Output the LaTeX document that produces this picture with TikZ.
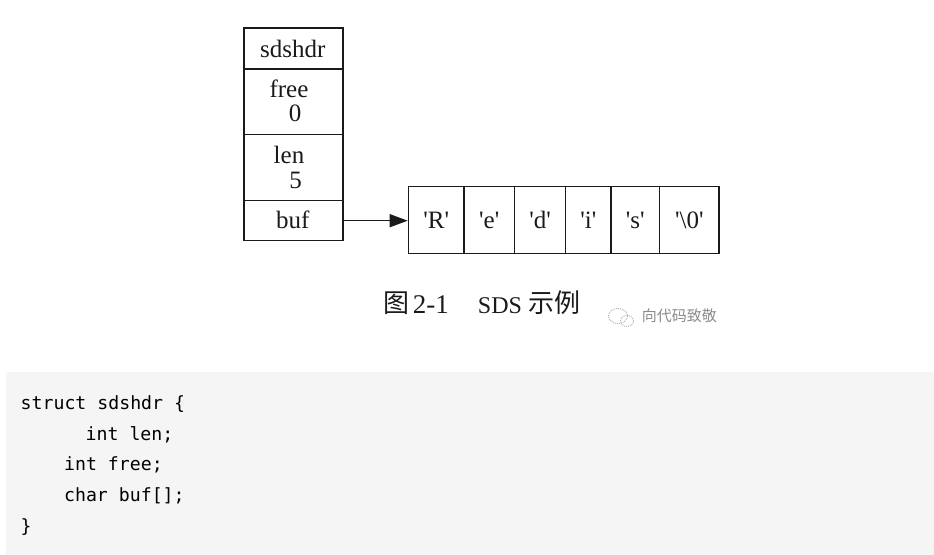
\documentclass[tikz,border=0pt]{standalone}
\usepackage{fontspec}
\setmainfont{Liberation Serif}
\newfontfamily\cjk{Noto Sans CJK SC}
\newfontfamily\codefont{DejaVu Sans Mono}
\usetikzlibrary{arrows.meta}
\definecolor{ink}{HTML}{1A1A1A}
\definecolor{codebg}{HTML}{F5F5F5}
\definecolor{wmgray}{HTML}{8A8A8A}
\newcommand{\qs}{\textquotesingle}
\begin{document}
\begin{tikzpicture}[x=1pt,y=-1pt,
  box/.style={draw=ink, line width=1.4pt, inner sep=0pt, anchor=north west},
  lbl/.style={inner sep=0pt, anchor=base, font=\fontsize{25}{25}\selectfont, text=ink},
  captxt/.style={inner sep=0pt, anchor=base, text=ink},
  code/.style={inner sep=0pt, anchor=base west, font=\codefont\fontsize{18.2}{18.2}\selectfont, text=black},
]
\useasboundingbox (0,0) rectangle (934,554);

% header struct boxes
\node[box, minimum width=99pt, minimum height=41pt]   (hdr)  at (243.3,27.3) {};
\node[box, minimum width=99pt, minimum height=65.7pt] (free) at (243.3,68.3) {};
\node[box, minimum width=99pt, minimum height=66pt]   (len)  at (243.3,134) {};
\node[box, minimum width=99pt, minimum height=40pt]   (buf)  at (243.3,200) {};

\node[lbl] (thdr)  at (292.8,57.3)  {sdshdr};
\node[lbl] (tfree) at (289,97.3)    {free};
\node[lbl] (tfv)   at (295,121.7)   {0};
\node[lbl] (tlen)  at (289,163.3)   {len};
\node[lbl] (tlv)   at (295.7,188.3) {5};
\node[lbl] (tbuf)  at (292.7,228.3) {buf};

% character array
\node[box, minimum width=55.6pt, minimum height=66.7pt] (c1) at (407.7,186) {};
\node[box, minimum width=50.4pt, minimum height=66.7pt] (c2) at (463.3,186) {};
\node[box, minimum width=51.3pt, minimum height=66.7pt] (c3) at (513.7,186) {};
\node[box, minimum width=45.3pt, minimum height=66.7pt] (c4) at (565,186) {};
\node[box, minimum width=48.7pt, minimum height=66.7pt] (c5) at (610.3,186) {};
\node[box, minimum width=59.3pt, minimum height=66.7pt] (c6) at (659,186) {};

\node[lbl] (t1) at (c1.center |- 0,228.3) {\qs R\qs};
\node[lbl] (t2) at (c2.center |- 0,228.3) {\qs e\qs};
\node[lbl] (t3) at (c3.center |- 0,228.3) {\qs d\qs};
\node[lbl] (t4) at (c4.center |- 0,228.3) {\qs i\qs};
\node[lbl] (t5) at (c5.center |- 0,228.3) {\qs s\qs};
\node[lbl] (t6) at (c6.center |- 0,228.3) {\qs\textbackslash 0\qs};

\draw[draw=ink, line width=1.4pt, -{Triangle[length=18pt,width=13pt]}]
  (buf.east) -- (buf.east -| c1.west);

% caption
\node[captxt, font=\cjk\fontsize{26}{26}\selectfont] (cfig) at (396.7,312) {图};
\node[captxt, font=\fontsize{27}{27}\selectfont]     (cnum) at (430.8,313) {2-1};
\node[captxt, font=\fontsize{24}{24}\selectfont]     (csds) at (500,313)   {SDS};
\node[captxt, font=\cjk\fontsize{26}{26}\selectfont] (cex)  at (554.2,312) {示例};

% watermark
\draw[wmgray!70, line width=0.9pt, densely dotted] (618,316) ellipse [x radius=9.5, y radius=7.5];
\draw[wmgray!70, line width=0.9pt, densely dotted] (627,321) ellipse [x radius=6.5, y radius=5.5];
\node[inner sep=0pt, anchor=west, font=\cjk\fontsize{15}{15}\selectfont, text=wmgray] (wm) at (641.7,316) {向代码致敬};

% code block
\fill[codebg, rounded corners=3pt] (6,372) rectangle (934,560);
\node[code] (l1) at (20.5,409.3)  {struct sdshdr \{};
\node[code] (l2) at (85.5,440)    {int len;};
\node[code] (l3) at (63.9,470.7)  {int free;};
\node[code] (l4) at (63.9,501.7)  {char buf[];};
\node[code] (l5) at (20.5,532.5)  {\}};
\end{tikzpicture}
\end{document}
